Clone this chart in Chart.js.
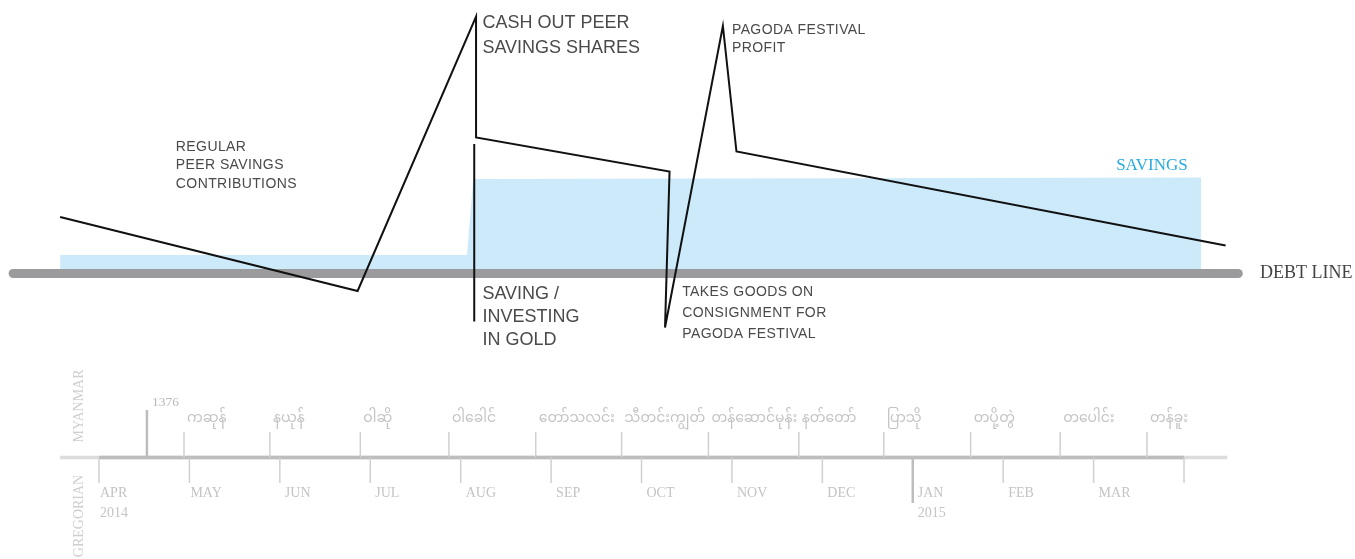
<!DOCTYPE html>
<html>
<head>
  <meta charset="UTF-8">
  <title>Financial diary - balance vs debt line</title>
  <script src="https://cdn.jsdelivr.net/npm/chart.js"></script>
  <style>
    body {
      margin: 0;
      background: #ffffff;
    }
    #wrap {
      width: 1355px;
      height: 559px;
      position: relative;
    }
  </style>
</head>
<body>
  <div id="wrap"><canvas id="diaryChart"></canvas></div>

  <script>
    // x = months since 1 Apr 2014, y = balance relative to the debt line (0)
    const balanceX = [-0.43, 2.86, 4.17, 4.17, 6.31, 6.26, 6.90, 7.05, 12.46];
    const balanceY = [56.5, -17.5, 257, 136, 102, -54, 247.5, 122, 28];

    const savingsX = [-0.43, 4.07, 4.14, 12.19];
    const savingsY = [18.5, 18.5, 94.5, 96];

    const goldX = [4.15, 4.15];
    const goldY = [129.5, -48];

    const debtX = [-0.95, 12.6];
    const debtY = [0, 0];

    const gregorianMonths = ['APR', 'MAY', 'JUN', 'JUL', 'AUG', 'SEP', 'OCT', 'NOV', 'DEC', 'JAN', 'FEB', 'MAR'];
    const gregorianYears = { 0: '2014', 9: '2015' };

    const myanmarMonths = ['ကဆုန်', 'နယုန်', 'ဝါဆို', 'ဝါခေါင်', 'တော်သလင်း', 'သီတင်းကျွတ်',
      'တန်ဆောင်မုန်း', 'နတ်တော်', 'ပြာသို', 'တပို့တွဲ', 'တပေါင်း', 'တန်ခူး'];
    const myanmarStarts = [0.94, 1.89, 2.89, 3.87, 4.83, 5.78, 6.74, 7.74, 8.68, 9.64, 10.63, 11.59];
    const myanmarNewYear = 0.53;
    const myanmarYear = '1376';

    const notes = [
      { x: 0.85, y: 126.5, size: 14, lh: 18.5, lines: ['REGULAR', 'PEER SAVINGS', 'CONTRIBUTIONS'] },
      { x: 4.24, y: 250.5, size: 18, lh: 25, lines: ['CASH OUT PEER', 'SAVINGS SHARES'] },
      { x: 4.24, y: -20.5, size: 18, lh: 23, lines: ['SAVING /', 'INVESTING', 'IN GOLD'] },
      { x: 7.0, y: 243.5, size: 14, lh: 18.5, lines: ['PAGODA FESTIVAL', 'PROFIT'] },
      { x: 6.45, y: -18.5, size: 14, lh: 21, lines: ['TAKES GOODS ON', 'CONSIGNMENT FOR', 'PAGODA FESTIVAL'] }
    ];

    const pts = (xs, ys) => xs.map((x, i) => ({ x: x, y: ys[i] }));

    const serif = "'Liberation Serif', 'DejaVu Serif', serif";
    const sans = "'Liberation Sans', Arial, sans-serif";

    const drawText = {
      id: 'drawText',
      afterDraw(chart) {
        const { ctx, scales } = chart;
        const X = v => scales.x.getPixelForValue(v);
        const Y = v => scales.y.getPixelForValue(v);
        ctx.save();
        ctx.textBaseline = 'middle';

        // annotations
        ctx.fillStyle = '#4a4a4a';
        notes.forEach(n => {
          ctx.font = `${n.size}px ${sans}`;
          ctx.letterSpacing = n.size < 16 ? '0.4px' : '0px';
          n.lines.forEach((line, i) => {
            ctx.fillText(line, X(n.x), Y(n.y) + i * n.lh);
          });
        });
        ctx.letterSpacing = '0px';

        // savings + debt labels
        ctx.font = `17px ${serif}`;
        ctx.fillStyle = '#29abe2';
        ctx.textAlign = 'right';
        ctx.fillText('SAVINGS', X(12.04), Y(107.5));
        ctx.textAlign = 'left';
        ctx.fillStyle = '#444444';
        ctx.font = `18px ${serif}`;
        ctx.fillText('DEBT LINE', X(12.84), Y(0));

        // timeline
        const axisY = 457.5;
        ctx.lineCap = 'butt';
        ctx.strokeStyle = '#dcdcdc';
        ctx.lineWidth = 3.5;
        ctx.beginPath();
        ctx.moveTo(X(-0.43), axisY);
        ctx.lineTo(X(12.48), axisY);
        ctx.stroke();
        ctx.strokeStyle = '#bdbdbd';
        ctx.beginPath();
        ctx.moveTo(X(0), axisY);
        ctx.lineTo(X(12), axisY);
        ctx.stroke();

        // gregorian ticks and labels
        ctx.font = `14px ${serif}`;
        for (let i = 0; i <= gregorianMonths.length; i++) {
          const big = i === 9;
          ctx.strokeStyle = big ? '#bdbdbd' : '#d0d0d0';
          ctx.lineWidth = big ? 2.5 : 1.5;
          ctx.beginPath();
          ctx.moveTo(X(i), axisY);
          ctx.lineTo(X(i), big ? 503 : 483);
          ctx.stroke();
          if (i < gregorianMonths.length) {
            ctx.fillStyle = '#c4c4c4';
            ctx.fillText(gregorianMonths[i], X(i) + (i < 2 ? 1 : 5), 493);
            if (gregorianYears[i]) ctx.fillText(gregorianYears[i], X(i) + (i < 2 ? 1 : 5), 513);
          }
        }

        // myanmar ticks and labels
        ctx.strokeStyle = '#bdbdbd';
        ctx.lineWidth = 2.5;
        ctx.beginPath();
        ctx.moveTo(X(myanmarNewYear), 410);
        ctx.lineTo(X(myanmarNewYear), axisY);
        ctx.stroke();
        ctx.fillStyle = '#b8b8b8';
        ctx.font = `13.5px ${serif}`;
        ctx.fillText(myanmarYear, X(myanmarNewYear) + 5, 402);

        ctx.font = `14px 'Noto Sans Myanmar', 'Padauk', 'Myanmar Text', ${sans}`;
        myanmarStarts.forEach((m, i) => {
          ctx.strokeStyle = '#d0d0d0';
          ctx.lineWidth = 1.5;
          ctx.beginPath();
          ctx.moveTo(X(m), 432);
          ctx.lineTo(X(m), axisY);
          ctx.stroke();
          ctx.fillStyle = '#c4c4c4';
          ctx.fillText(myanmarMonths[i], X(m) + 3, 421);
        });

        // side labels
        ctx.fillStyle = '#cfcfcf';
        ctx.font = `14px ${serif}`;
        ctx.textAlign = 'center';
        ctx.translate(79, 406);
        ctx.rotate(-Math.PI / 2);
        ctx.fillText('MYANMAR', 0, 0);
        ctx.rotate(Math.PI / 2);
        ctx.translate(0, 110);
        ctx.rotate(-Math.PI / 2);
        ctx.fillText('GREGORIAN', 0, 0);
        ctx.restore();
      }
    };

    new Chart(document.getElementById('diaryChart'), {
      type: 'line',
      data: {
        datasets: [
          {
            label: 'Balance',
            data: pts(balanceX, balanceY),
            borderColor: '#111111',
            borderWidth: 2,
            pointRadius: 0,
            tension: 0,
            fill: false,
            order: 1
          },
          {
            label: 'Gold',
            data: pts(goldX, goldY),
            borderColor: '#111111',
            borderWidth: 2,
            pointRadius: 0,
            fill: false,
            order: 1
          },
          {
            label: 'Debt line',
            data: pts(debtX, debtY),
            borderColor: '#9b9b9d',
            borderWidth: 9,
            borderCapStyle: 'round',
            pointRadius: 0,
            fill: false,
            order: 2
          },
          {
            label: 'Savings',
            data: pts(savingsX, savingsY),
            borderWidth: 0,
            borderColor: 'rgba(0,0,0,0)',
            backgroundColor: '#cceaf9',
            pointRadius: 0,
            fill: 'origin',
            order: 3
          }
        ]
      },
      options: {
        responsive: true,
        maintainAspectRatio: false,
        animation: false,
        layout: { padding: 0 },
        scales: {
          x: { type: 'linear', min: -1.095, max: 13.891, display: false },
          y: { type: 'linear', min: -285.5, max: 273.5, display: false }
        },
        plugins: {
          legend: { display: false },
          tooltip: { enabled: false }
        }
      },
      plugins: [drawText]
    });
  </script>
</body>
</html>
